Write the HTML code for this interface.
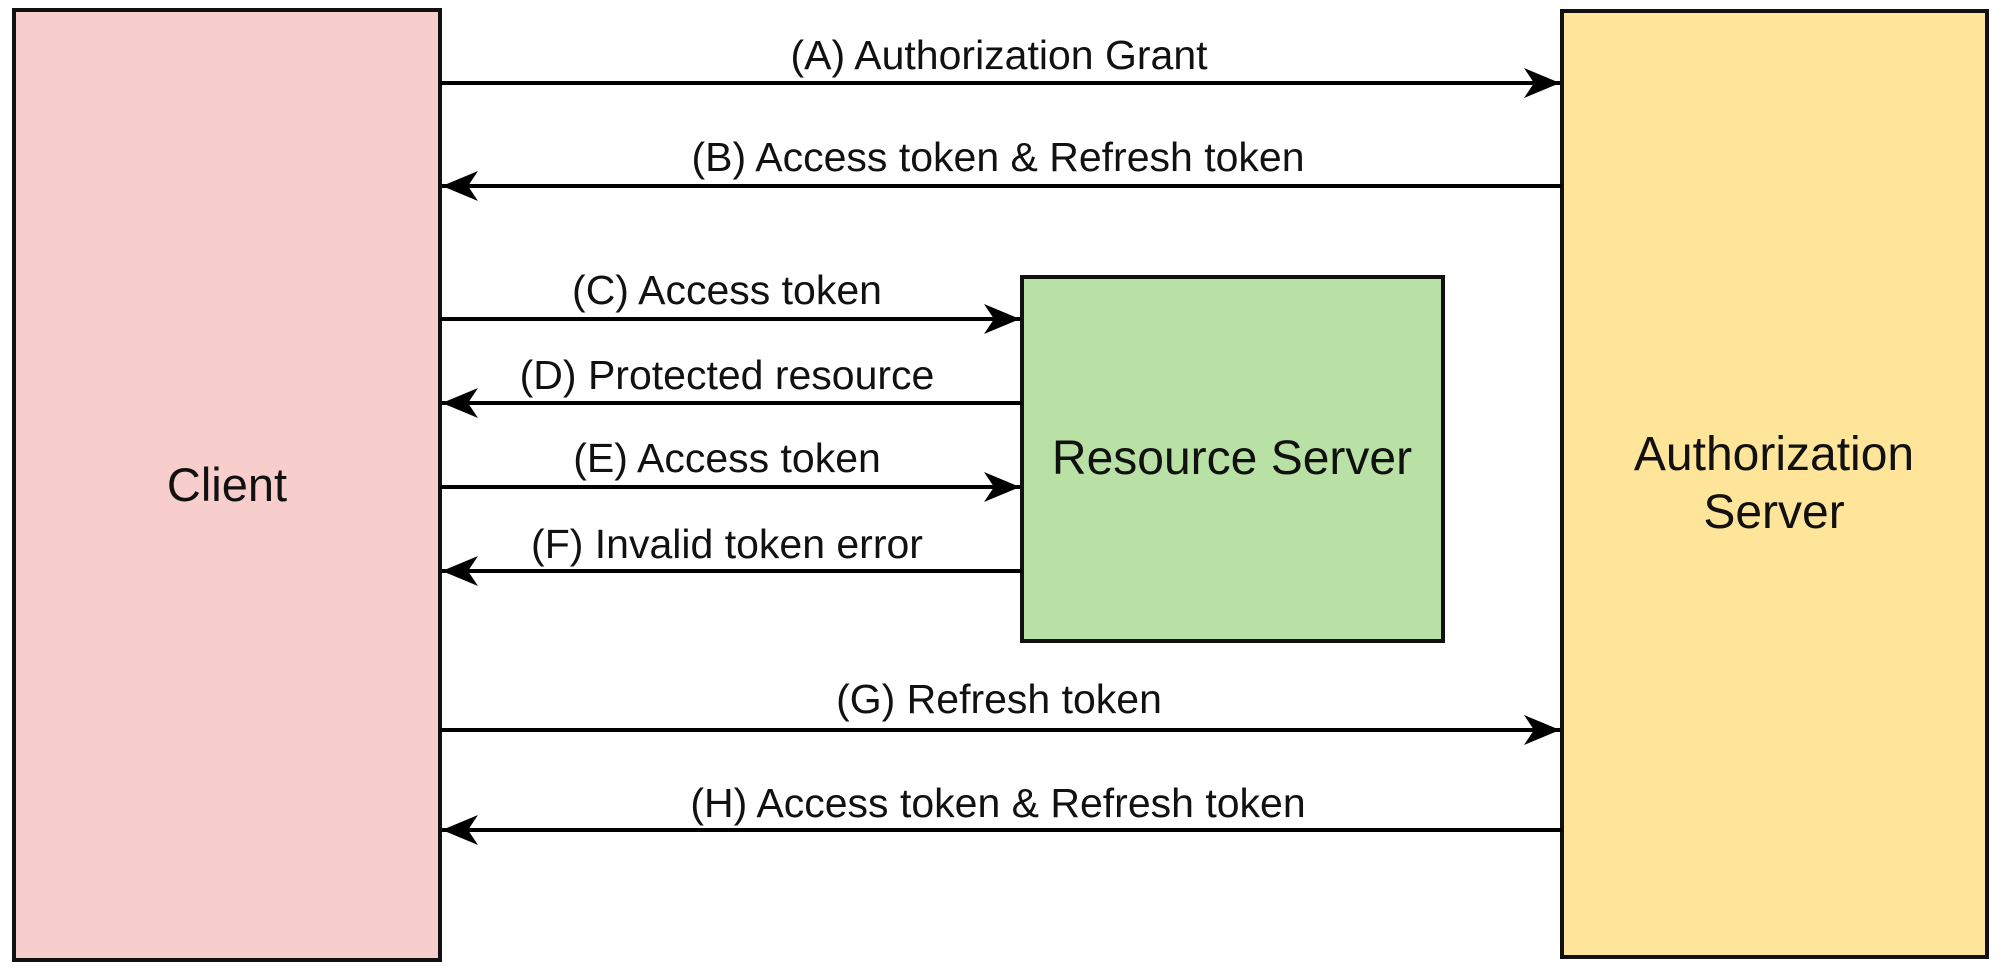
<!DOCTYPE html>
<html><head><meta charset="utf-8"><style>
html,body{margin:0;padding:0;background:#fff;}
svg{display:block;}
text{font-family:"Liberation Sans",Arial,sans-serif;fill:#111;}
</style></head><body>
<svg width="2000" height="967" viewBox="0 0 2000 967" xmlns="http://www.w3.org/2000/svg">
<defs>
<marker id="ah" markerUnits="userSpaceOnUse" markerWidth="40" markerHeight="36" refX="36" refY="18" orient="auto">
<path d="M0,3 L36,18 L0,33 L10,18 Z" fill="#000"/>
</marker>
</defs>
<rect x="14" y="10" width="426" height="950" fill="#f8cecc" stroke="#111" stroke-width="4"/>
<rect x="1562" y="11" width="425" height="946" fill="#ffe599" stroke="#111" stroke-width="4"/>
<rect x="1022" y="277" width="421" height="364" fill="#b9e0a5" stroke="#111" stroke-width="4"/>
<text x="227" y="501" font-size="47" text-anchor="middle">Client</text>
<text x="1232" y="474" font-size="48" text-anchor="middle">Resource Server</text>
<text x="1774" y="470" font-size="48" text-anchor="middle">Authorization</text>
<text x="1774" y="528" font-size="48" text-anchor="middle">Server</text>
<g stroke="#000" stroke-width="4" fill="none">
<line x1="440" y1="83" x2="1560" y2="83" marker-end="url(#ah)"/>
<line x1="1562" y1="186" x2="442" y2="186" marker-end="url(#ah)"/>
<line x1="440" y1="319" x2="1020" y2="319" marker-end="url(#ah)"/>
<line x1="1022" y1="403" x2="442" y2="403" marker-end="url(#ah)"/>
<line x1="440" y1="487" x2="1020" y2="487" marker-end="url(#ah)"/>
<line x1="1022" y1="571" x2="442" y2="571" marker-end="url(#ah)"/>
<line x1="440" y1="730" x2="1560" y2="730" marker-end="url(#ah)"/>
<line x1="1562" y1="830" x2="442" y2="830" marker-end="url(#ah)"/>
</g>
<g font-size="41" text-anchor="middle">
<text x="999" y="69">(A) Authorization Grant</text>
<text x="998" y="171">(B) Access token &amp; Refresh token</text>
<text x="727" y="304">(C) Access token</text>
<text x="727" y="389">(D) Protected resource</text>
<text x="727" y="472">(E) Access token</text>
<text x="727" y="558">(F) Invalid token error</text>
<text x="999" y="713">(G) Refresh token</text>
<text x="998" y="817">(H) Access token &amp; Refresh token</text>
</g>
</svg>
</body></html>
